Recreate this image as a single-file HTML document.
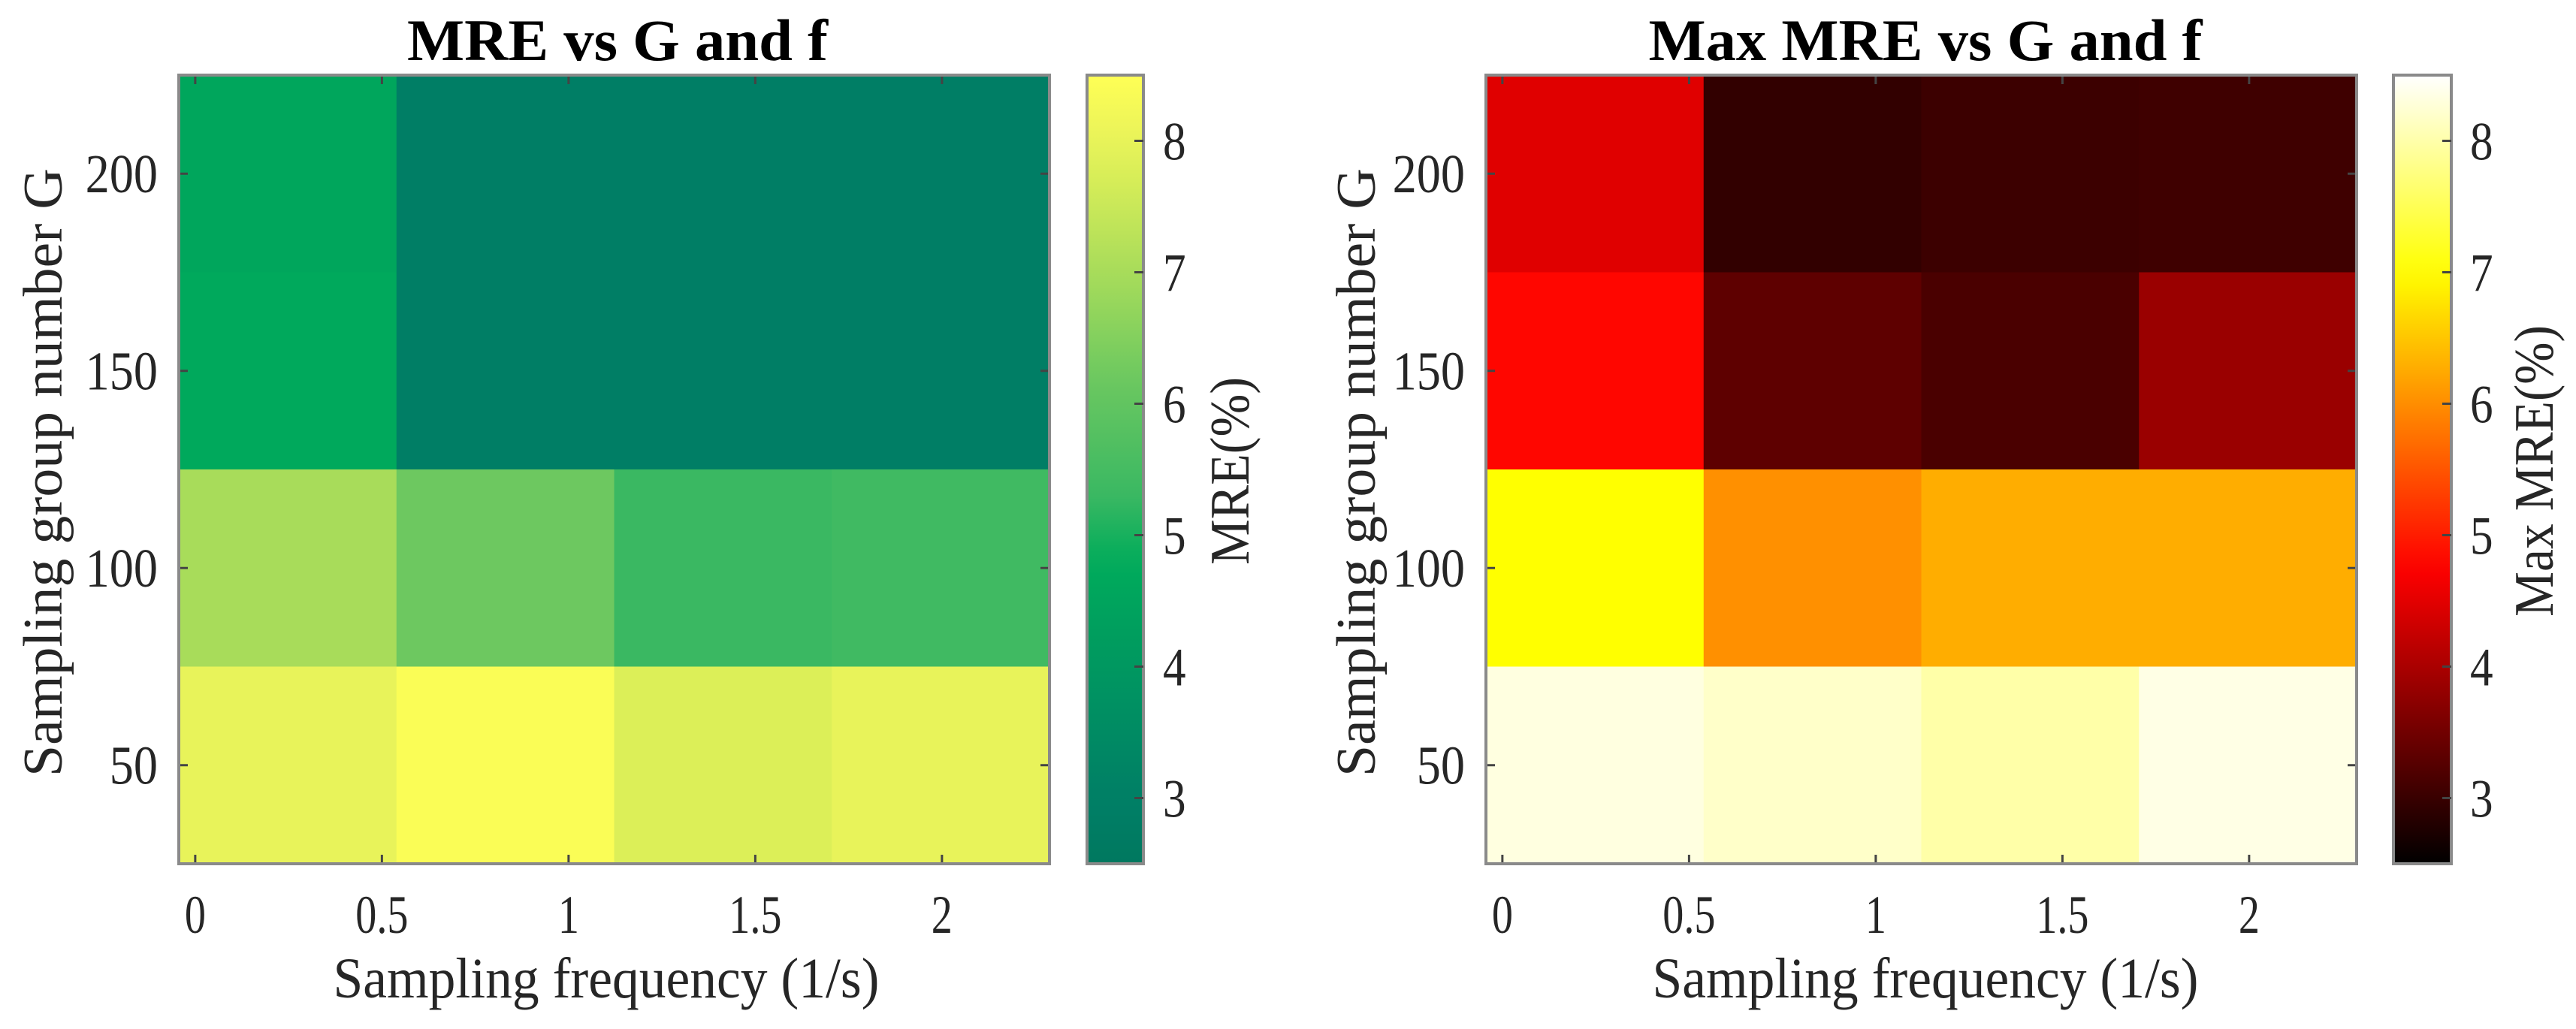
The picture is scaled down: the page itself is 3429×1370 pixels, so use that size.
<!DOCTYPE html>
<html><head><meta charset="utf-8"><style>
html,body{margin:0;padding:0;background:#fff;}
svg{display:block;font-family:"Liberation Serif",serif;}
</style></head><body>
<svg id="fig" width="3429" height="1370" viewBox="0 0 3429 1370" xmlns="http://www.w3.org/2000/svg"></svg>
<script>
// ---- data ----
const gRows = [200, 150, 100, 50];
const fCols = ["c1", "c2", "c3", "c4"];
const mreValues = [
  [4.6, 2.9, 2.9, 2.9],
  [4.7, 2.95, 2.9, 2.9],
  [7.0, 6.2, 5.3, 5.4],
  [8.0, 8.4, 7.8, 8.0]
];
const maxMreValues = [
  [4.48, 2.94, 3.03, 3.06],
  [4.8, 3.33, 3.15, 3.86],
  [7.0, 6.02, 6.28, 6.28],
  [8.32, 8.18, 7.99, 8.35]
];
const xTicks = [0, 0.5, 1, 1.5, 2];
const xTickLabels = ["0", "0.5", "1", "1.5", "2"];
const cTicks = [3, 4, 5, 6, 7, 8];
const cTickLabels = ["3", "4", "5", "6", "7", "8"];

const NS = "http://www.w3.org/2000/svg";
const svg = document.getElementById("fig");
function mk(tag, attrs, parent) {
  const e = document.createElementNS(NS, tag);
  for (const k in attrs) e.setAttribute(k, attrs[k]);
  (parent || svg).appendChild(e);
  return e;
}
function hex(c){return [parseInt(c.slice(1,3),16),parseInt(c.slice(3,5),16),parseInt(c.slice(5,7),16)];}
function interp(stops, v){
  if (v <= stops[0][0]) return stops[0][1];
  for (let i=1;i<stops.length;i++){
    if (v <= stops[i][0]){
      const t=(v-stops[i-1][0])/(stops[i][0]-stops[i-1][0]);
      const a=hex(stops[i-1][1]), b=hex(stops[i][1]);
      return "rgb("+a.map((x,j)=>Math.round(x+(b[j]-x)*t)).join(",")+")";
    }
  }
  return stops[stops.length-1][1];
}
const greenStops = [[2.5,"#00785f"],[3.0,"#007f66"],[4.8,"#00ab5b"],[5.3,"#3ab862"],[6.2,"#6dc860"],[7.0,"#a8dc5a"],[7.8,"#dcef58"],[8.0,"#e8f35a"],[8.5,"#ffff55"]];
const hotStops = [[2.5,"#000000"],[4.75,"#ff0000"],[7.0,"#ffff00"],[8.5,"#ffffff"]];
const CMIN = 2.5, CMAX = 8.5;

// text with horizontal squeeze around anchor point
function sqText(g, txt, x, y, size, sx, anchor, name) {
  const t = mk("text", {x: x/sx, y: y, "font-size": size, fill: "#262626", "text-anchor": anchor, transform: `scale(${sx},1)`}, g);
  t.textContent = txt;
  
  
  return t;
}

function panel(o){
  const {ax, cb, title, titleLen, clabel, clabLen, values, stops, ylabX, clabX, tickLabX, name, xlabC, titleC} = o;
  const top = 100, bot = 1150, W = ax[1]-ax[0], H = bot-top;
  const xmin = -0.044, xmax = 2.288;
  const xs = v => ax[0] + (v - xmin) / (xmax - xmin) * W;
  const cs = v => bot - (v - CMIN) / (CMAX - CMIN) * H;
  const g = mk("g", {});
  
  
  const cw = W / fCols.length, rh = H / gRows.length;
  values.forEach((row, r) => row.forEach((v, c) => {
    const rect = mk("rect", {x: ax[0] + c*cw, y: top + r*rh, width: cw+0.6, height: rh+0.6, fill: interp(stops, v)}, g);
    
    
  }));
  xTicks.forEach((t, i) => {
    const x = xs(t);
    mk("line", {x1:x, x2:x, y1:bot, y2:bot-12, stroke:"#444", "stroke-width":3}, g);
    mk("line", {x1:x, x2:x, y1:top, y2:top+12, stroke:"#444", "stroke-width":3}, g);
    sqText(g, xTickLabels[i], x, 1242, 72, 0.78, "middle", "x-tick-label");
  });
  gRows.forEach((gv, r) => {
    const y = top + (r+0.5)*rh;
    mk("line", {x1:ax[0], x2:ax[0]+12, y1:y, y2:y, stroke:"#444", "stroke-width":3}, g);
    mk("line", {x1:ax[1], x2:ax[1]-12, y1:y, y2:y, stroke:"#444", "stroke-width":3}, g);
    sqText(g, String(gv), ax[0]-28, y+25, 73, 0.88, "end", "y-tick-label");
  });
  const border = mk("rect", {x:ax[0], y:top, width:W, height:H, fill:"none", stroke:"#8a8a8a", "stroke-width":4}, g);
  
  
  const tt = mk("text", {x:titleC, y:80, "font-size":78, "font-weight":"bold", "text-anchor":"middle", fill:"#000", textLength:titleLen, lengthAdjust:"spacingAndGlyphs"}, g);
  tt.textContent = title;
  
  
  const xl = mk("text", {x:xlabC, y:1328, "font-size":76, "text-anchor":"middle", fill:"#262626", textLength:727, lengthAdjust:"spacingAndGlyphs"}, g);
  xl.textContent = "Sampling frequency (1/s)";
  
  
  const yl = mk("text", {x:0, y:0, "font-size":74, "text-anchor":"middle", fill:"#262626", textLength:810, lengthAdjust:"spacingAndGlyphs", transform:`translate(${ylabX},629) rotate(-90)`}, g);
  yl.textContent = "Sampling group number G";
  
  
  const defs = mk("defs", {}, g);
  const grad = mk("linearGradient", {id:name+"grad", x1:0, y1:1, x2:0, y2:0}, defs);
  for (let i = 0; i <= 30; i++) {
    const v = CMIN + (CMAX-CMIN)*i/30;
    mk("stop", {offset: (i/30*100)+"%", "stop-color": interp(stops, v)}, grad);
  }
  const cbr = mk("rect", {x:cb[0], y:top, width:cb[1]-cb[0], height:H, fill:`url(#${name}grad)`, stroke:"#8a8a8a", "stroke-width":4}, g);
  
  
  cTicks.forEach((t, i) => {
    const y = cs(t);
    mk("line", {x1:cb[1]-12, x2:cb[1], y1:y, y2:y, stroke:"#444", "stroke-width":3}, g);
    sqText(g, cTickLabels[i], tickLabX, y+25, 72, 0.85, "start", "colorbar-tick-label");
  });
  const cl = mk("text", {x:0, y:0, "font-size":74, "text-anchor":"middle", fill:"#262626", textLength:clabLen, lengthAdjust:"spacingAndGlyphs", transform:`translate(${clabX},627) rotate(-90)`}, g);
  cl.textContent = clabel;
  
  
}
panel({name:"mre", ax:[238,1397], cb:[1447,1522], title:"MRE vs G and f", titleLen:560, titleC:822, xlabC:807, clabel:"MRE(%)", clabLen:250, values:mreValues, stops:greenStops, ylabX:82, clabX:1662, tickLabX:1548});
panel({name:"maxmre", ax:[1978,3137], cb:[3186,3263], title:"Max MRE vs G and f", titleLen:737, titleC:2563, xlabC:2563, clabel:"Max MRE(%)", clabLen:388, values:maxMreValues, stops:hotStops, ylabX:1830, clabX:3398, tickLabX:3288});
</script>
</body></html>
